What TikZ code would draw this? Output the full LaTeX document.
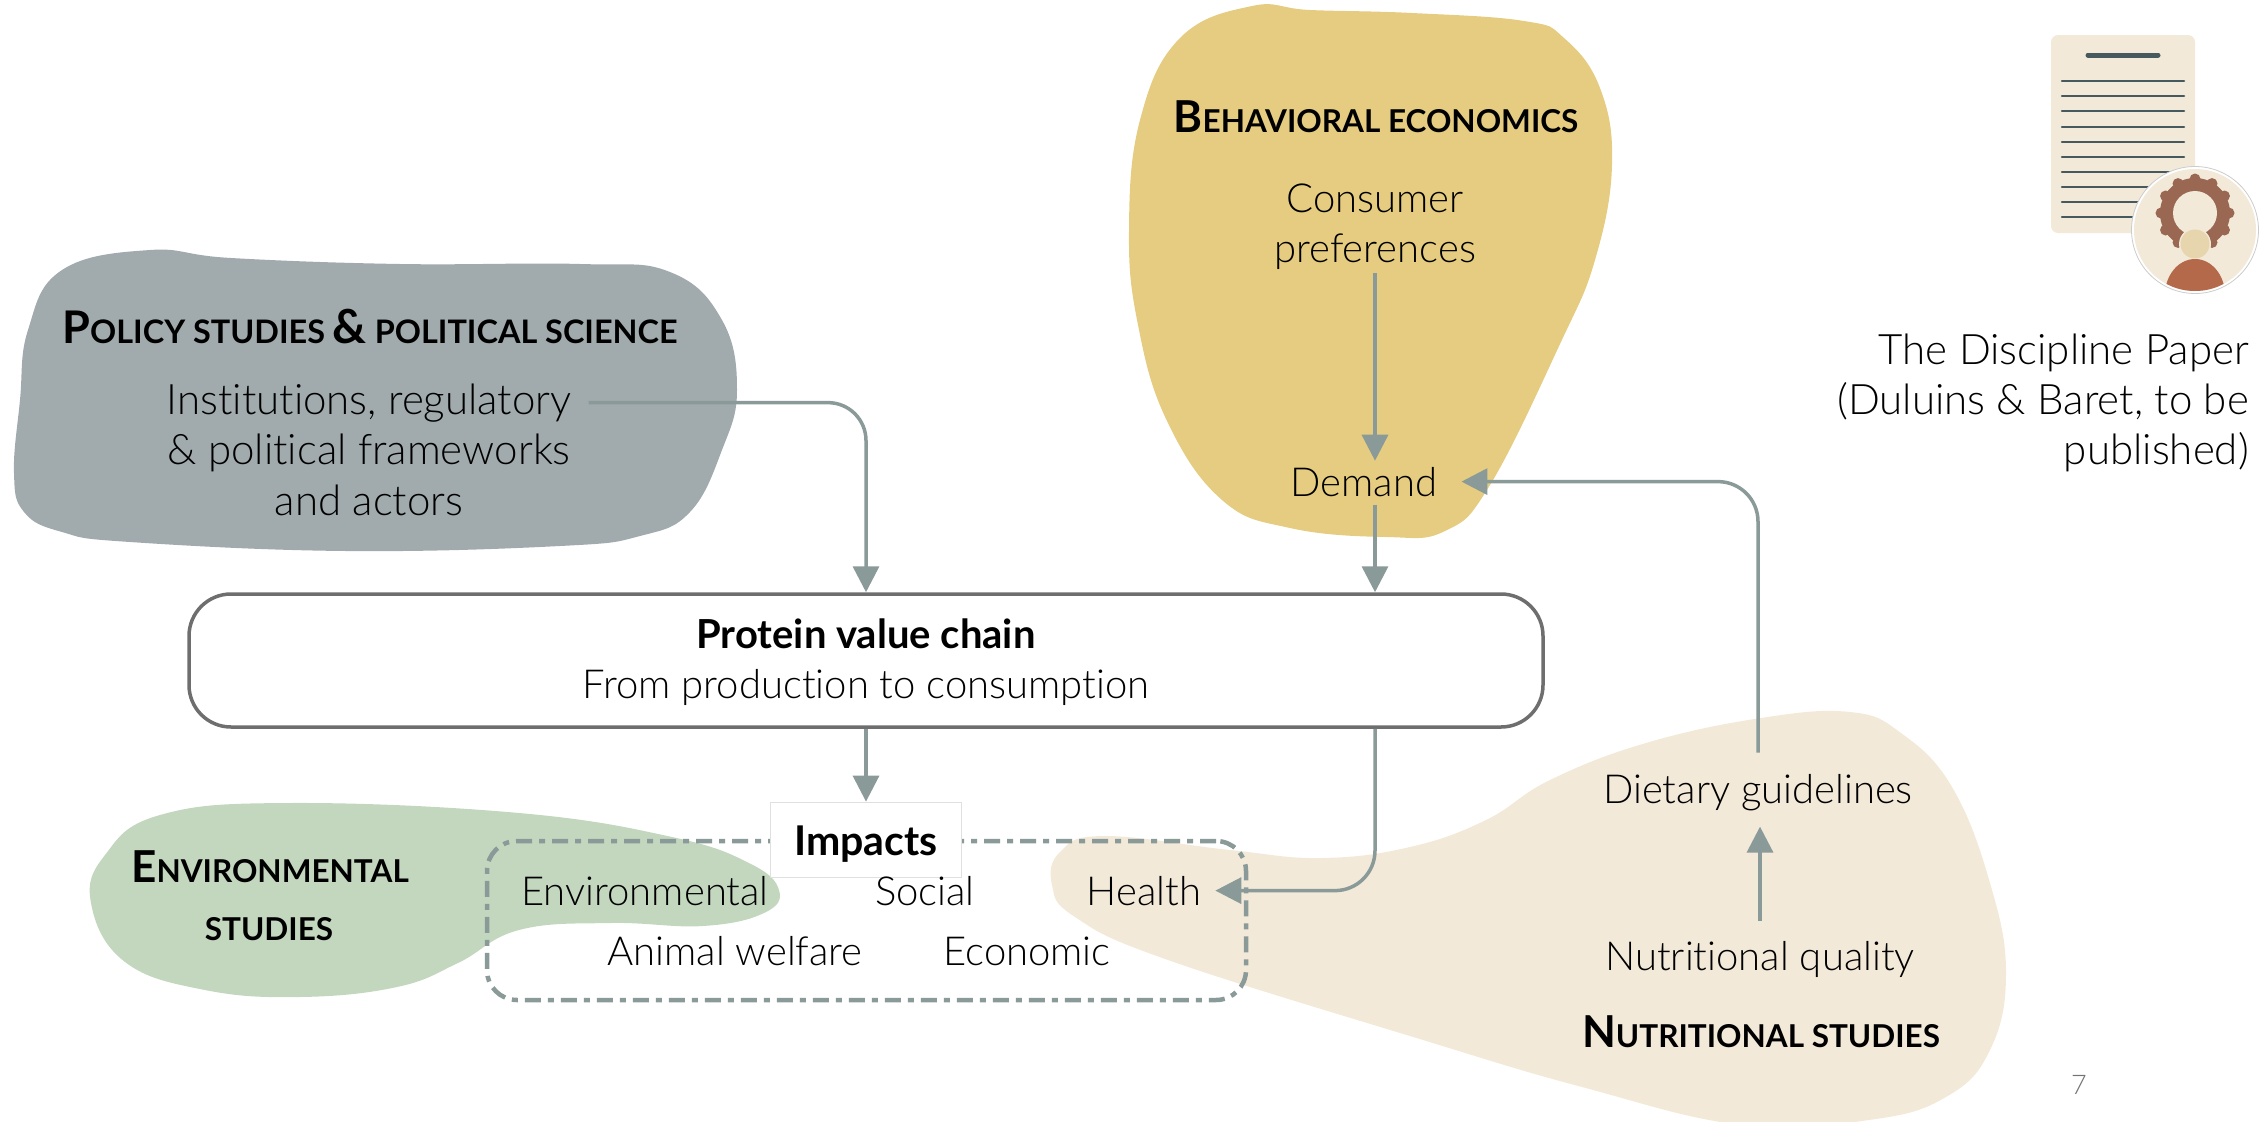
\documentclass[tikz,border=0pt]{standalone}
\usepackage{fontspec}
\setmainfont{Lato}[UprightFont=* Light, BoldFont=* Bold, Ligatures=NoCommon]
\usetikzlibrary{arrows.meta}
\definecolor{policygrey}{HTML}{A1ABAD}
\definecolor{behavgold}{HTML}{E5CC81}
\definecolor{envgreen}{HTML}{C3D7BF}
\definecolor{nutcream}{HTML}{F2E9D8}
\definecolor{flowgrey}{HTML}{8A9A98}
\definecolor{chainedge}{HTML}{6E6E6E}
\definecolor{inkslate}{HTML}{46595E}
\definecolor{gearbrown}{HTML}{996752}
\definecolor{headtan}{HTML}{E6D5AD}
\definecolor{bodyrust}{HTML}{B3694A}
\newcommand{\bodysize}{\fontsize{40}{50}\selectfont}
\newcommand{\widesize}{\fontsize{42}{50}\selectfont}
\newcommand{\capshead}[2]{{\fontsize{44}{44}\selectfont #1}\MakeUppercase{#2}}
\tikzset{
  label/.style={anchor=base, inner sep=0pt, font=\bodysize},
  widelabel/.style={anchor=base, inner sep=0pt, font=\widesize},
  head/.style={anchor=base, inner sep=0pt, font=\fontsize{31.5}{32}\selectfont\bfseries},
  flow/.style={draw=flowgrey, line width=3.5pt, -{Triangle[width=26pt,length=26pt]}},
}

\begin{document}
\begin{tikzpicture}[x=1pt,y=-1pt]
    \useasboundingbox (0,0) rectangle (2263,1122);
    % discipline blobs
    \fill[policygrey] plot [smooth cycle, tension=0.7] coordinates {(150,250) (62,270) (28,330) (20,400) (14,473) (24,512) (62,532) (130,542) (346,551) (560,546) (640,536) (690,512) (722,450) (737,390) (722,320) (670,272) (580,264) (400,264) (231,258)};
    \fill[behavgold] plot [smooth cycle, tension=0.7] coordinates {(1252,6) (1180,38) (1140,120) (1129,230) (1138,325) (1167,421) (1222,500) (1290,528) (1386,537) (1445,531) (1490,485) (1560,344) (1595,260) (1612,165) (1600,88) (1564,38) (1524,21) (1412,13) (1310,10)};
    \fill[envgreen] plot [smooth cycle, tension=0.7] coordinates {(290,803) (160,815) (105,855) (91,903) (125,962) (205,990) (300,997) (397,987) (458,963) (519,930) (611,923) (703,926) (764,913) (779,890) (749,863) (672,837) (519,813)};
    \fill[nutcream] plot [smooth cycle, tension=0.7] coordinates {(1104,836) (1060,852) (1052,885) (1075,917) (1168,960) (1423,1040) (1582,1087) (1742,1125) (1869,1120) (1946,1097) (1990,1050) (2006,973) (1990,883) (1952,787) (1901,733) (1850,712) (1761,718) (1646,743) (1550,780) (1486,820) (1410,847) (1321,858) (1230,850)};

    % headings
    \node[head, font=\fontsize{32.4}{33}\selectfont\bfseries] (policyhead) at (370,343) {{\fontsize{45}{45}\selectfont P}\MakeUppercase{olicy studies} {\fontsize{47}{47}\selectfont\&} \MakeUppercase{political science}};
    \node[head] (behavhead) at (1376,132) {\capshead{B}{ehavioral economics}};
    \node[head] (envhead) at (270,882) {\capshead{E}{nvironmental}};
    \node[head] (envhead2) at (269,940) {\MakeUppercase{studies}};
    \node[head] (nuthead) at (1761,1047) {\capshead{N}{utritional studies}};

    % items
    \node[widelabel] (institutions) at (369,414) {Institutions, regulatory};
    \node[widelabel] (frameworks) at (369,464) {\& political frameworks};
    \node[widelabel] (actors) at (369,515) {and actors};
    \node[label] (consumer) at (1375,212) {Consumer};
    \node[label] (preferences) at (1375,262) {preferences};
    \node[label] (demand) at (1364,496) {Demand};
    \node[label] (dietary) at (1758,803) {Dietary guidelines};
    \node[label] (nutquality) at (1760,970) {Nutritional quality};

    \node[draw=chainedge, line width=3.5pt, fill=white, rounded corners=42pt, minimum width=1354pt, minimum height=133pt, align=center, font=\bodysize] (chain) at (866,660.5) {\rule{0pt}{34pt}\textbf{Protein value chain}\\From production to consumption};

    % impacts
    \node[draw=flowgrey, line width=4.5pt, rounded corners=30pt, dash pattern=on 16pt off 7pt on 6pt off 7pt, minimum width=759pt, minimum height=159pt] (impactbox) at (866.5,920.5) {};
    \node[draw=black!12, line width=0.8pt, fill=white, minimum width=191pt, minimum height=75pt, text height=32pt, text depth=0pt, font=\fontsize{41}{50}\selectfont\bfseries] (impacts) at (866,839.5) {Impacts};
    \node[label] (environmental) at (645,905) {Environmental};
    \node[label] (social) at (925,905) {Social};
    \node[label] (health) at (1144,905) {Health};
    \node[label] (welfare) at (735,965) {Animal welfare};
    \node[label] (economic) at (1027,965) {Economic};

    % connectors
    \draw[flow, rounded corners=38pt, shorten <=17pt] (institutions.east) -| (chain.north);
    \draw[flow, shorten <=4pt, shorten >=6pt] (preferences.south) -- (preferences.south |- demand.north);
    \draw[flow, shorten <=8pt] (preferences.south |- demand.south) -- (preferences.south |- chain.north);
    \draw[flow] (chain.south) -- (impacts.north);
    \draw[flow, rounded corners=40pt, shorten >=14pt] (preferences.south |- chain.south) |- (health.east);
    \draw[flow, shorten <=20pt, shorten >=16pt] (nutquality.north) -- (nutquality.north |- dietary.south);
    \draw[flow, rounded corners=40pt, shorten <=21pt, shorten >=24pt] (dietary.north) |- (demand.east);

    % paper icon
    \fill[nutcream, rounded corners=7pt] (2051,35) rectangle (2195,233);
    \draw[inkslate, line width=5pt, line cap=round] (2088,55) -- (2158,55);
    \foreach \y in {81,96,111,127,142,157,172,187,202,217}
        \draw[inkslate, line width=2.5pt, line cap=round] (2062,\y) -- (2184,\y);
    \fill[white, draw=black!20, line width=0.8pt] (2195,230) circle (63.5pt);
    \fill[nutcream] (2195,230) circle (61pt);
    \fill[gearbrown] (2195,213) circle (35pt);
    \foreach \a in {0,30,...,330}
        \fill[gearbrown] (2195,213) ++(\a:34pt) circle (5.5pt);
    \fill[nutcream] (2195,213) circle (22pt);
    \fill[nutcream] (2195,244) circle (16pt);
    \fill[headtan] (2195,244) circle (14.5pt);
    \begin{scope}
        \clip (2195,230) circle (61pt);
        \fill[bodyrust] (2195,295) circle [x radius=30pt, y radius=36pt];
    \end{scope}

    \node[anchor=north east, inner sep=0pt, align=right, font=\widesize] (paperref) at (2249,334) {The Discipline Paper\\(Duluins \& Baret, to be\\published)};
    \node[inner sep=0pt, text=black!55, font=\fontsize{27}{27}\selectfont] (pagenum) at (2079,1085) {7};
\end{tikzpicture}
\end{document}
